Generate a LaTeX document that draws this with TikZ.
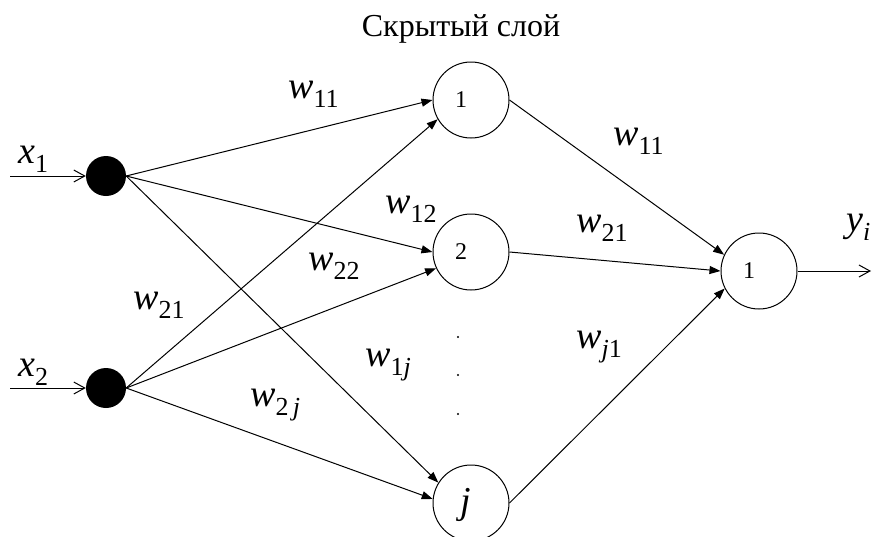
\documentclass[tikz,border=0pt]{standalone}
\usepackage{fontspec}
\setmainfont{Liberation Serif}
\usetikzlibrary{arrows.meta}
\newcommand{\vsym}{\fontsize{38}{38}\selectfont\itshape}
\newcommand{\ssym}{\fontsize{26}{26}\selectfont}
\newcommand{\wlab}[2]{{\vsym #1}\raisebox{-9pt}{\ssym #2}}
\begin{document}
\begin{tikzpicture}[x=1pt,y=-1pt,
  wt/.style={anchor=base west, inner sep=0pt},
  inp/.style={circle, fill=black, minimum size=40pt, inner sep=0pt},
  neuron/.style={circle, draw, line width=1pt, minimum size=76pt, inner sep=0pt},
  numlab/.style={font=\fontsize{24}{24}\selectfont, xshift=-10pt},
  conn/.style={line width=1pt, -{Triangle[length=11pt,width=8pt]}},
  io/.style={line width=1pt, -{Straight Barb[length=11pt,width=12pt,line width=1pt]}},
]
\useasboundingbox (0,0) rectangle (873,536);

% title
\node[anchor=base] (title) at (461,36) {\fontsize{32}{32}\selectfont Скрытый слой};

% input nodes
\node[inp] (i1) at (106,176) {};
\node[inp] (i2) at (106,388) {};
\coordinate (s1) at (10,176);
\coordinate (s2) at (10,388);

% hidden nodes
\node[neuron, label={[numlab]center:1}] (h1) at (471,100) {};
\node[neuron, label={[numlab]center:2}] (h2) at (471,252) {};
\node[neuron, label={[font=\vsym, xshift=-5pt, yshift=-2pt]center:j}] (hj) at (471,503) {};

% output node
\node[neuron, label={[numlab]center:1}] (o) at (759,271) {};
\coordinate (e) at (871,271);

% dots
\fill (458,337) circle (1.1pt);
\fill (458,375) circle (1.1pt);
\fill (458,414) circle (1.1pt);

% input / output arrows
\draw[io] (s1) -- (i1.west);
\draw[io] (s2) -- (i2.west);
\draw[io] (o.east) -- (e);

% connections input -> hidden
\draw[conn] (i1.east) -- (h1.west);
\draw[conn] (i1.east) -- (h2.west);
\draw[conn] (i1.east) -- (hj.148);
\draw[conn] (i2.east) -- (h1.210);
\draw[conn] (i2.east) -- (h2.205);
\draw[conn] (i2.east) -- (hj.174);

% hidden -> output
\draw[conn] (h1.east) -- (o.155);
\draw[conn] (h2.east) -- (o.west);
\draw[conn] (hj.east) -- (o.207);

% labels
\node[wt] (lx1) at (18,163) {\wlab{x}{1}};
\node[wt] (lx2) at (18,376) {\wlab{x}{2}};
\node[wt] (lw11a) at (288,98) {\wlab{w}{11}};
\node[wt] (lw12) at (385,213) {\wlab{w}{12}};
\node[wt] (lw22) at (308,270) {\wlab{w}{22}};
\node[wt] (lw21a) at (133,309) {\wlab{w}{21}};
\node[wt] (lw1j) at (365,366) {\wlab{w}{1\textit{j}}};
\node[wt] (lw2j) at (250,406) {\wlab{w}{2\,\textit{j}}};
\node[wt] (lw11b) at (613,145) {\wlab{w}{11}};
\node[wt] (lw21b) at (576,232) {\wlab{w}{21}};
\node[wt] (lwj1) at (576,348) {\wlab{w}{\textit{j}1}};
\node[wt] (lyi) at (846,231) {\wlab{y}{\textit{i}}};
\end{tikzpicture}
\end{document}
